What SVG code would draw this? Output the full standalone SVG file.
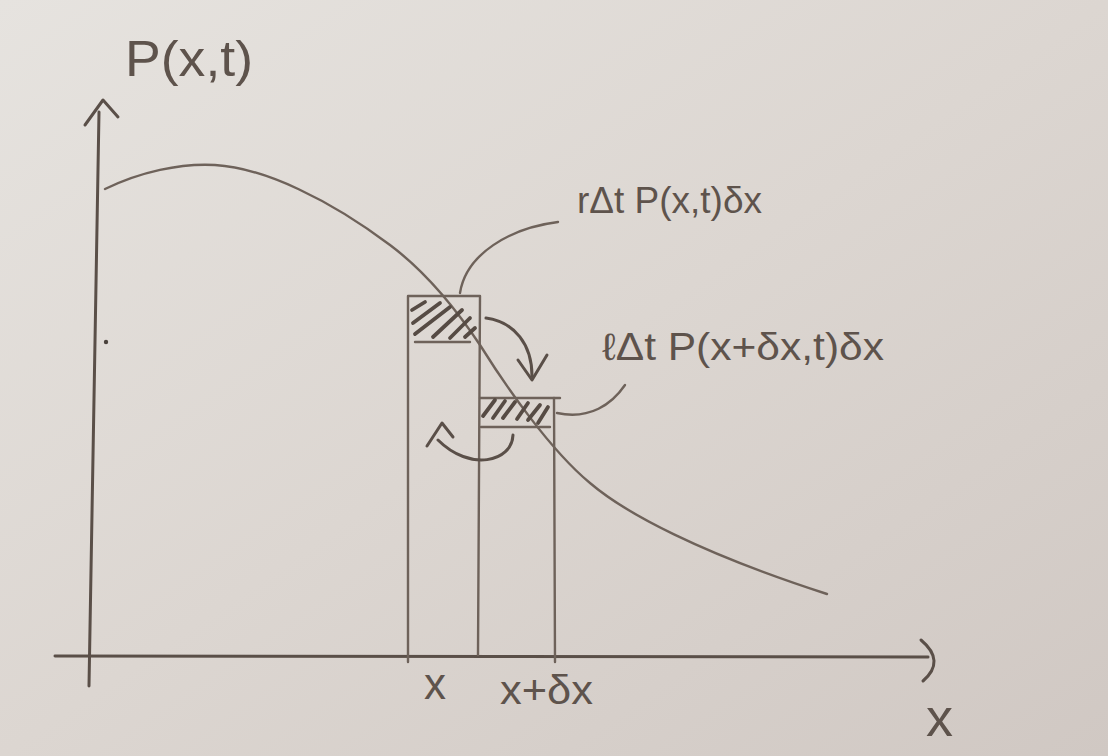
<svg xmlns="http://www.w3.org/2000/svg" width="1108" height="756" viewBox="0 0 1108 756">
  <defs>
    <linearGradient id="paper" x1="0" y1="0" x2="1" y2="1">
      <stop offset="0" stop-color="#e6e3df"/>
      <stop offset="0.5" stop-color="#dcd6d1"/>
      <stop offset="1" stop-color="#d0c8c3"/>
    </linearGradient>
    <style>
      .pen { fill: none; stroke: #5a4f48; stroke-linecap: round; stroke-linejoin: round; }
      .axis { stroke-width: 3; }
      .thin { stroke-width: 2.4; stroke: #6e625a; }
      .hatch { stroke-width: 3.8; stroke: #564b44; }
      .lbl { font-family: "Liberation Sans", "DejaVu Sans", sans-serif; fill: #5e534c; }
    </style>
  </defs>

  <rect x="0" y="0" width="1108" height="756" fill="url(#paper)"/>

  <g id="axes">
    <path class="pen axis" d="M99,112 L89,686"/>
    <path class="pen axis" d="M85,125 L103,100 L118,117"/>
    <path class="pen axis" d="M55,656 L928,657"/>
    <path class="pen axis" d="M921,640 Q946,661 923,681"/>
    <circle cx="106" cy="342" r="2.2" fill="#4a423c"/>
  </g>

  <g id="curve">
    <path class="pen thin" d="M105,189 C140,172 180,163 215,165 C265,168 330,200 390,245 C430,275 460,315 480,345 C505,385 550,450 590,483 C625,513 700,553 827,594"/>
  </g>

  <g id="bar-x">
    <path class="pen thin" d="M408,662 L408,296 L480,296 L478,655"/>
    <path class="pen thin" d="M415,342 L470,342"/>
    <g class="pen hatch">
      <path d="M412,310 L425,302"/>
      <path d="M413,323 L440,303"/>
      <path d="M415,334 L450,307"/>
      <path d="M433,337 L462,310"/>
      <path d="M450,338 L470,318"/>
      <path d="M465,337 L475,328"/>
    </g>
  </g>

  <g id="bar-x-dx">
    <path class="pen thin" d="M480,398 L560,398"/>
    <path class="pen thin" d="M554,398 L555,662"/>
    <path class="pen thin" d="M481,427 L550,427"/>
    <g class="pen hatch">
      <path d="M483,416 L495,400"/>
      <path d="M493,418 L505,401"/>
      <path d="M503,418 L515,402"/>
      <path d="M517,419 L528,403"/>
      <path d="M528,420 L540,405"/>
      <path d="M538,423 L548,407"/>
    </g>
  </g>

  <g id="connectors">
    <path class="pen axis" d="M486,318 C515,322 532,345 532,376"/>
    <path class="pen axis" d="M518,360 L532,380 L547,355"/>
    <path class="pen axis" d="M513,435 C512,462 470,472 438,440"/>
    <path class="pen axis" d="M427,446 L442,423 L453,437"/>
    <path class="pen thin" d="M460,293 C466,254 510,228 558,222"/>
    <path class="pen thin" d="M557,413 C590,420 612,404 625,385"/>
  </g>

  <g id="labels">
    <text class="lbl" x="125" y="76" font-size="50" textLength="128" lengthAdjust="spacingAndGlyphs">P(x,t)</text>
    <text class="lbl" x="577" y="213" font-size="36" textLength="185" lengthAdjust="spacingAndGlyphs">rΔt P(x,t)δx</text>
    <text class="lbl" x="602" y="360" font-size="38" textLength="282" lengthAdjust="spacingAndGlyphs">ℓΔt P(x+δx,t)δx</text>
    <text class="lbl" x="424" y="699" font-size="44">x</text>
    <text class="lbl" x="500" y="704" font-size="40" textLength="93" lengthAdjust="spacingAndGlyphs">x+δx</text>
    <text class="lbl" x="926" y="736" font-size="54">x</text>
  </g>
</svg>
